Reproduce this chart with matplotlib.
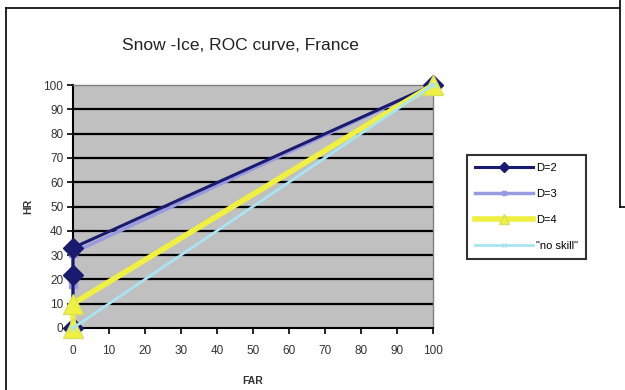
import matplotlib
matplotlib.use("Agg")
import matplotlib.pyplot as plt
from matplotlib.lines import Line2D

plt.rcParams['font.family'] = ['Liberation Sans', 'DejaVu Sans']

title = "Snow -Ice, ROC curve, France"
x_label = "FAR"
y_label = "HR"

d2_x = [0, 0, 0, 100]
d2_y = [0, 22, 33, 100]
d3_x = [0, 0, 0, 100]
d3_y = [0, 18, 31, 100]
d4_x = [0, 0, 100]
d4_y = [0, 10, 100]
ns_x = [0, 100]
ns_y = [0, 100]
ticks = [0, 10, 20, 30, 40, 50, 60, 70, 80, 90, 100]

W, H = 625, 390
fig = plt.figure(figsize=(W / 100, H / 100), dpi=100)
fig.patch.set_facecolor('white')

ax = fig.add_axes([73 / W, (H - 328) / H, 360 / W, (328 - 85) / H])
ax.set_facecolor('#C0C0C0')
ax.set_xlim(0, 100)
ax.set_ylim(0, 100)

for g in ticks[1:-1]:
    ax.axhline(g, color='black', lw=1.6, zorder=1)

ax.plot(d3_x, d3_y, color='#9A9AE0', lw=2.5, marker='s', ms=6, zorder=3, clip_on=False, label='D=3')
ax.plot(d2_x, d2_y, color='#1A1A70', lw=2.2, marker='D', ms=10, zorder=4, clip_on=False, label='D=2')
ax.plot(d4_x, d4_y, color='#F0F040', lw=4, marker='^', ms=14, mec='#D8E060', zorder=5, clip_on=False, label='D=4')
ax.plot(ns_x, ns_y, color='#A8E4F4', lw=2, marker='x', ms=5, zorder=6, clip_on=False, label='"no skill"')

ax.set_xticks(ticks)
ax.set_yticks(ticks)
ax.tick_params(axis='both', labelsize=8.5, length=4, width=1.2, color='black', labelcolor='#333333')
ax.tick_params(axis='x', pad=8)
ax.tick_params(axis='y', pad=3)
for s in ['left', 'bottom']:
    ax.spines[s].set_color('black')
    ax.spines[s].set_linewidth(1.5)
for s in ['top', 'right']:
    ax.spines[s].set_color('#808080')
    ax.spines[s].set_linewidth(1.0)

ax.set_xlabel(x_label, fontsize=7.5, fontweight='bold', labelpad=14, color='#333333')
ax.set_ylabel(y_label, fontsize=7.5, fontweight='bold', labelpad=0, color='#333333')
ax.yaxis.set_label_coords(-(73 - 33) / 360, 0.5)

fig.text(240 / W, 1 - 45 / H, title, ha='center', va='center', fontsize=12.5, color='#222222')

handles, labels = ax.get_legend_handles_labels()
order = [1, 0, 2, 3]
leg = fig.legend([handles[i] for i in order], [labels[i] for i in order],
                 loc='upper left', bbox_to_anchor=(467 / W, 1 - 155 / H),
                 fontsize=8, frameon=True, fancybox=False, edgecolor='black',
                 borderpad=0.7, labelspacing=1.45, handlelength=5.2, handletextpad=0.3,
                 markerscale=0.5, borderaxespad=0)
leg.get_frame().set_linewidth(1.5)

# outer frame lines
fig.add_artist(Line2D([6 / W, 620 / W], [1 - 8 / H, 1 - 8 / H], color='black', lw=1.2))
fig.add_artist(Line2D([6 / W, 6 / W], [1 - 8 / H, 0], color='black', lw=1.2))
fig.add_artist(Line2D([620 / W, 620 / W], [1, 1 - 207 / H], color='black', lw=1.2))
fig.add_artist(Line2D([620 / W, 1], [1 - 207 / H, 1 - 207 / H], color='black', lw=1.2))

fig.savefig('out.png', dpi=100)
